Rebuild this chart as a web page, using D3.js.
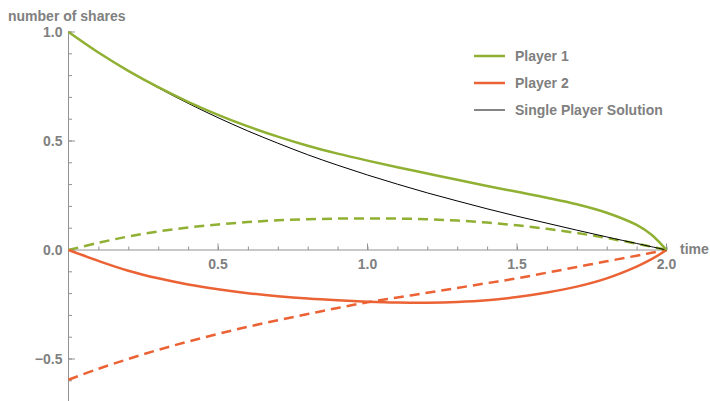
<!DOCTYPE html>
<html>
<head>
<meta charset="utf-8">
<script src="https://cdn.jsdelivr.net/npm/d3@7"></script>
<style>
  html, body { margin: 0; padding: 0; background: #fff; }
  svg text { font-family: "Liberation Sans", Arial, sans-serif; font-weight: bold; fill: #808080; }
</style>
</head>
<body>
<svg id="chart" width="710" height="401"></svg>
<script>
// time grid (extra sample near the terminal time where the paths steepen)
const times = [0,0.1,0.2,0.3,0.4,0.5,0.6,0.7,0.8,0.9,1.0,1.1,1.2,1.3,1.4,1.5,1.6,1.7,1.8,1.9,1.95,2.0];

// holdings (solid) and trading paths (dashed) for each player
const player1 = [1,0.906,0.822,0.747,0.68,0.62,0.567,0.52,0.478,0.442,0.41,0.38,0.351,0.322,0.294,0.267,0.24,0.21,0.171,0.115,0.07,0];
const player1Dashed = [0,0.033,0.062,0.085,0.103,0.117,0.128,0.136,0.141,0.144,0.145,0.144,0.141,0.135,0.126,0.113,0.097,0.078,0.055,0.029,0.015,0];
const player2 = [0,-0.05,-0.095,-0.13,-0.158,-0.18,-0.198,-0.212,-0.223,-0.231,-0.237,-0.241,-0.242,-0.239,-0.231,-0.216,-0.195,-0.168,-0.13,-0.076,-0.042,0];
const player2Dashed = [-0.595,-0.545,-0.5,-0.458,-0.42,-0.385,-0.352,-0.322,-0.294,-0.266,-0.24,-0.218,-0.196,-0.174,-0.152,-0.13,-0.104,-0.078,-0.052,-0.026,-0.013,0];
const singlePlayer = [1,0.907,0.822,0.744,0.673,0.607,0.546,0.49,0.437,0.389,0.344,0.302,0.262,0.225,0.189,0.155,0.123,0.091,0.06,0.03,0.015,0];

const xMajor = [0.5,1.0,1.5,2.0];
const yMajor = [-0.5,0.0,0.5,1.0];
const legendLabels = ["Player 1","Player 2","Single Player Solution"];

const green = "#8FB032", orange = "#EB6235";
const axisColor = "#929292";
const fontSize = 14;

const svg = d3.select("#chart");
const x = d3.scaleLinear().domain([0,2]).range([68.5,666.5]);
const y = d3.scaleLinear().domain([0,1]).range([250,32]);

// horizontal axis: minor ticks every 0.1, major every 0.5, ticks drawn inward
const gx = svg.append("g").attr("transform", `translate(0,${y(0)})`);
gx.call(d3.axisBottom(x).tickValues(d3.range(1,21).map(i=>i/10)).tickSize(-3.5).tickFormat(""));
gx.call(g=>g.selectAll(".tick line").attr("stroke",axisColor));
gx.select(".domain").attr("stroke",axisColor).attr("d",`M${x(0)},0H${x(2)}`);
gx.selectAll(".major").data(xMajor).join("line")
  .attr("x1",d=>x(d)).attr("x2",d=>x(d)).attr("y1",0).attr("y2",-6.5).attr("stroke",axisColor);
gx.selectAll(".lbl").data(xMajor).join("text")
  .attr("x",d=>x(d)).attr("y",19).attr("text-anchor","middle").attr("font-size",fontSize).text(d3.format(".1f"));

// vertical axis
const gy = svg.append("g").attr("transform", `translate(${x(0)},0)`);
const yMinor = d3.range(-6,11).map(i=>i/10);
gy.selectAll(".minor").data(yMinor).join("line")
  .attr("x1",0).attr("x2",3.5).attr("y1",d=>y(d)).attr("y2",d=>y(d)).attr("stroke",axisColor);
gy.selectAll(".major").data(yMajor).join("line")
  .attr("x1",0).attr("x2",6.5).attr("y1",d=>y(d)).attr("y2",d=>y(d)).attr("stroke",axisColor);
gy.append("line").attr("x1",0).attr("x2",0).attr("y1",y(1)).attr("y2",401).attr("stroke",axisColor);
gy.selectAll(".lbl").data(yMajor).join("text")
  .attr("x",-6).attr("y",d=>y(d)+5).attr("text-anchor","end").attr("font-size",fontSize)
  .text(d=>d3.format(".1f")(d).replace("-","\u2212"));

svg.append("text").attr("x",8).attr("y",21).attr("font-size",fontSize).text("number of shares");
svg.append("text").attr("x",680).attr("y",254).attr("font-size",fontSize).text("time");

// curves
const line = d3.line().x((d,i)=>x(times[i])).y(d=>y(d)).curve(d3.curveCatmullRom.alpha(0.5));
const series = [
  {v: player2Dashed, c: orange, w: 2.5, dash: "10,6"},
  {v: player1Dashed, c: green, w: 2.5, dash: "10,6"},
  {v: player2, c: orange, w: 2.5},
  {v: singlePlayer, c: "#000", w: 1},
  {v: player1, c: green, w: 2.5}
];
svg.selectAll(".series").data(series).join("path")
  .attr("d",d=>line(d.v)).attr("fill","none").attr("stroke",d=>d.c)
  .attr("stroke-width",d=>d.w).attr("stroke-dasharray",d=>d.dash||null);

// legend
const legendStyles = [{c: green, w: 2.5},{c: orange, w: 2.5},{c: "#333", w: 1.2}];
const lg = svg.append("g").attr("transform","translate(474,56)");
legendLabels.forEach((t,i)=>{
  const row = lg.append("g").attr("transform",`translate(0,${i*27})`);
  row.append("line").attr("x1",0).attr("x2",31).attr("y1",0).attr("y2",0)
    .attr("stroke",legendStyles[i].c).attr("stroke-width",legendStyles[i].w);
  row.append("text").attr("x",41).attr("y",5).attr("font-size",fontSize).text(t);
});
</script>
</body>
</html>
